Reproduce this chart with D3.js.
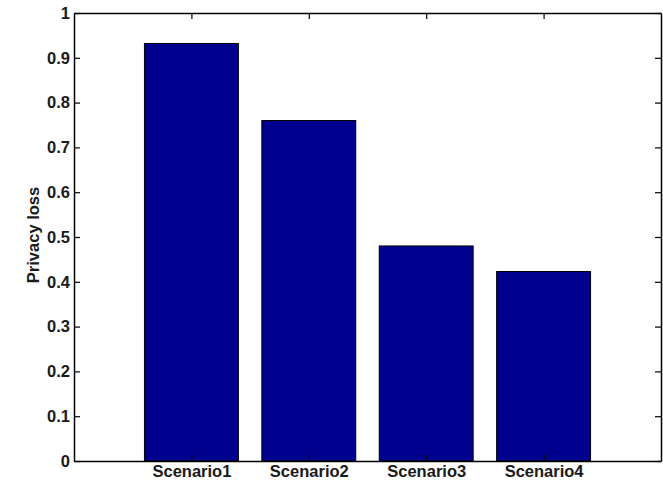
<!DOCTYPE html>
<html><head><meta charset="utf-8">
<script src="https://cdn.jsdelivr.net/npm/d3@7"></script>
<style>body{margin:0;background:#fff}</style>
</head><body>
<script>
const categories = ["Scenario1","Scenario2","Scenario3","Scenario4"];
const values = [0.932, 0.760, 0.480, 0.423];
const yTicks = [0,0.1,0.2,0.3,0.4,0.5,0.6,0.7,0.8,0.9,1];
const yLabel = "Privacy loss";

const W=663,H=482;
const L=74,R=661,T=13,B=461;
const svg=d3.select("body").append("svg").attr("width",W).attr("height",H);
const x=d3.scaleLinear().domain([0,5]).range([L,R]);
const y=d3.scaleLinear().domain([0,1]).range([B,T]);
const bw=(x(1)-x(0))*0.8;

svg.append("g").selectAll("rect").data(values).join("rect")
  .attr("x",(d,i)=>x(i+1)-bw/2).attr("width",bw)
  .attr("y",d=>y(d)).attr("height",d=>B-y(d))
  .attr("fill","#00008f").attr("stroke","#000").attr("stroke-width",1);

const font="'Liberation Sans', Arial, sans-serif";
const fs=16.5;
const ga=svg.append("g").attr("transform",`translate(${L},0)`)
  .call(d3.axisLeft(y).tickValues(yTicks).tickSizeInner(-6).tickSizeOuter(0).tickPadding(4).tickFormat(d=>d3.format("~g")(d)));
const gr=svg.append("g").attr("transform",`translate(${R},0)`)
  .call(d3.axisRight(y).tickValues(yTicks).tickSizeInner(-6).tickSizeOuter(0).tickFormat(""));
const gb=svg.append("g").attr("transform",`translate(0,${B})`)
  .call(d3.axisBottom(x).tickValues([1,2,3,4]).tickSizeInner(-6).tickSizeOuter(0).tickPadding(4).tickFormat(d=>categories[d-1]));
const gt=svg.append("g").attr("transform",`translate(0,${T})`)
  .call(d3.axisTop(x).tickValues([1,2,3,4]).tickSizeInner(-6).tickSizeOuter(0).tickFormat(""));
[ga,gr,gb,gt].forEach(g=>{
  g.selectAll("path.domain").attr("stroke","#000").attr("stroke-width",1.5);
  g.selectAll(".tick line").attr("stroke","#000").attr("stroke-width",1.2);
  g.selectAll("text").attr("font-family",font).attr("font-size",fs).attr("font-weight","bold").attr("fill","#1a1a1a");
});

svg.append("text").attr("transform",`translate(39,${(185+285)/2}) rotate(-90)`)
  .attr("text-anchor","middle").attr("font-family",font).attr("font-size",fs)
  .attr("font-weight","bold").attr("fill","#1a1a1a").text(yLabel);
</script>
</body></html>
